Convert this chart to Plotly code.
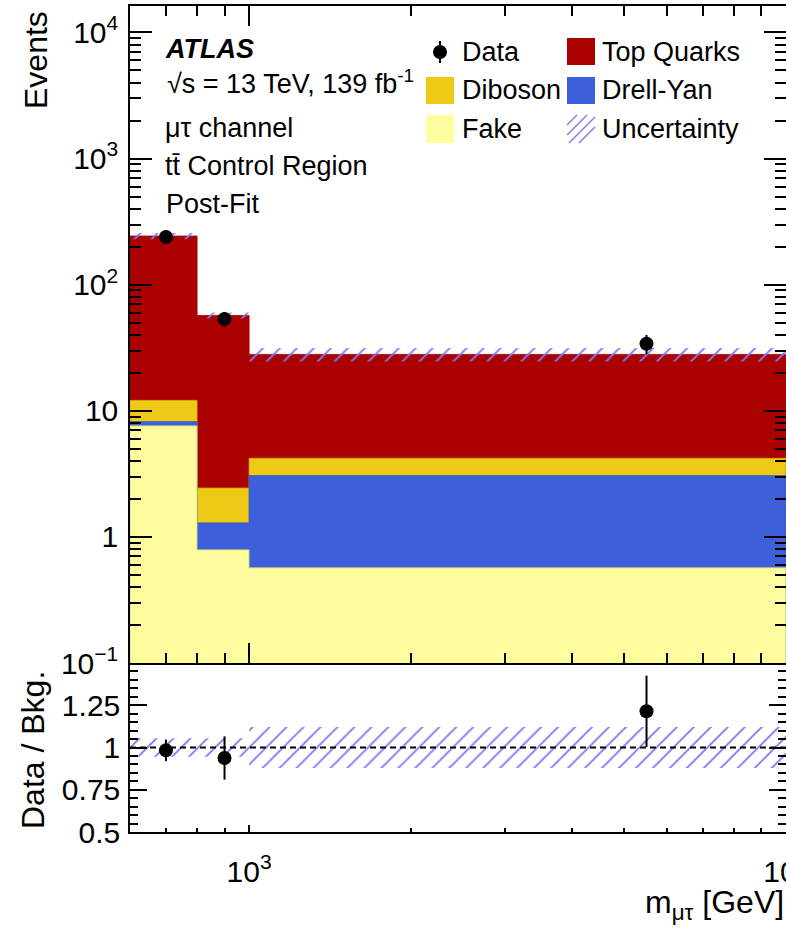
import numpy as np
import plotly.graph_objects as go

# ---------------------------------------------------------------- data
# m_mutau binning [GeV]
bin_edges = [600, 800, 1000, 10000]

# post-fit background yields per bin
fake = [7.6, 0.79, 0.57]
drell_yan = [0.6, 0.50, 2.49]
diboson = [3.9, 1.15, 1.14]
top_quarks = [231.0, 54.6, 23.8]

# relative total background uncertainty per bin
bkg_rel_unc = [0.055, 0.055, 0.122]

# observed events and their errors
data = [239, 53.5, 34]
data_err = [15.5, 7.3, 5.9]

# tick labels
y_tickvals = [0.1, 1, 10, 100, 1000, 10000]
y_ticktext = ["10<sup>\u22121</sup>", "1", "10", "10<sup>2</sup>", "10<sup>3</sup>", "10<sup>4</sup>"]
x_tickvals = [1000, 10000]
x_ticktext = ["10<sup>3</sup>", "10<sup>4</sup>"]
r_tickvals = [0.5, 0.75, 1, 1.25]
r_ticktext = ["0.5", "0.75", "1", "1.25"]

# ---------------------------------------------------------------- style
FONT = "Liberation Sans, Arial, Helvetica, sans-serif"
C_TOP = "#AA0000"
C_DIB = "#EEC916"
C_DY = "#3D5FDB"
C_FAKE = "#FFFD9E"
C_UNC = "#7E7EF0"

W, H = 786, 933
ML, MR, MT, MB = 130, 0, 6, 101
PW, PH = W - ML - MR, H - MT - MB
SPLIT_PX = 663  # boundary between main pad and ratio pad


def px_x(px):
    return (px - ML) / PW


def px_y(py):
    return (H - MB - py) / PH


split = px_y(SPLIT_PX)

edges = np.array(bin_edges, dtype=float)
centers = 0.5 * (edges[:-1] + edges[1:])

stack_fake = np.array(fake)
stack_dy = stack_fake + np.array(drell_yan)
stack_dib = stack_dy + np.array(diboson)
total = stack_dib + np.array(top_quarks)
rel = np.array(bkg_rel_unc)
ratio = np.array(data) / total
ratio_err = np.array(data_err) / total


def step_polygon(vals, base):
    xs, ys = [edges[0]], [base]
    for i, v in enumerate(vals):
        xs += [edges[i], edges[i + 1]]
        ys += [v, v]
    xs.append(edges[-1])
    ys.append(base)
    return xs, ys


def band_polygon(lo, hi):
    xs, ys = [], []
    for i in range(len(hi)):
        xs += [edges[i], edges[i + 1]]
        ys += [hi[i], hi[i]]
    for i in reversed(range(len(lo))):
        xs += [edges[i + 1], edges[i]]
        ys += [lo[i], lo[i]]
    xs.append(xs[0])
    ys.append(ys[0])
    return xs, ys


HATCH = dict(shape="/", fgcolor=C_UNC, bgcolor="rgba(0,0,0,0)", size=12, solidity=0.16)

fig = go.Figure()

# stacked backgrounds, drawn from the cumulative top down
for vals, col, line in [
    (total, C_TOP, "#9A0000"),
    (stack_dib, C_DIB, "#D9A800"),
    (stack_dy, C_DY, "#3050C8"),
    (stack_fake, C_FAKE, "#C8C870"),
]:
    xs, ys = step_polygon(vals, 0.01)
    fig.add_trace(go.Scatter(
        x=xs, y=ys, xaxis="x2", yaxis="y2", mode="lines",
        fill="toself", fillcolor=col, line=dict(color=line, width=0.8),
        hoverinfo="skip", showlegend=False))

# uncertainty hatch on the total
xs, ys = band_polygon(total * (1 - rel), total * (1 + rel))
fig.add_trace(go.Scatter(
    x=xs, y=ys, xaxis="x2", yaxis="y2", mode="lines", fill="toself",
    fillcolor="rgba(0,0,0,0)", line=dict(width=0), fillpattern=HATCH,
    hoverinfo="skip", showlegend=False))

# data
fig.add_trace(go.Scatter(
    x=centers, y=data, xaxis="x2", yaxis="y2", mode="markers",
    marker=dict(color="black", size=14),
    error_y=dict(type="data", array=data_err, color="black", thickness=2, width=0),
    showlegend=False, cliponaxis=False))

# ratio pad: uncertainty band, unity line, data/bkg
xs, ys = band_polygon(1 - rel, 1 + rel)
fig.add_trace(go.Scatter(
    x=xs, y=ys, xaxis="x", yaxis="y", mode="lines", fill="toself",
    fillcolor="rgba(0,0,0,0)", line=dict(width=0), fillpattern=HATCH,
    hoverinfo="skip", showlegend=False))
fig.add_trace(go.Scatter(
    x=[edges[0], edges[-1]], y=[1, 1], xaxis="x", yaxis="y", mode="lines",
    line=dict(color="black", width=2, dash="6px,4px"),
    hoverinfo="skip", showlegend=False))
fig.add_trace(go.Scatter(
    x=centers, y=ratio, xaxis="x", yaxis="y", mode="markers",
    marker=dict(color="black", size=14),
    error_y=dict(type="data", array=ratio_err, color="black", thickness=2, width=0),
    showlegend=False))

# ---------------------------------------------------------------- axes
AX = dict(showline=True, linecolor="black", linewidth=1.5, ticks="inside",
          tickcolor="black", tickwidth=1.5, showgrid=False, zeroline=False,
          tickfont=dict(family=FONT, size=30, color="black"))

x_minor = [v * 10 ** e for e in (2, 3) for v in range(2, 10) if 600 < v * 10 ** e < 10000]
y_minor = [v * 10.0 ** e for e in range(-1, 5) for v in range(2, 10)]
r_minor = [round(v, 2) for v in np.arange(0.55, 1.5, 0.05) if round(v, 2) not in r_tickvals]
xrange_log = [np.log10(edges[0]), np.log10(edges[-1]) + 2e-4]

fig.update_layout(
    width=W, height=H, template="none",
    paper_bgcolor="white", plot_bgcolor="rgba(0,0,0,0)",
    margin=dict(l=ML, r=MR, t=MT, b=MB, pad=0),
    showlegend=False,
    xaxis=dict(AX, type="log", range=xrange_log, domain=[0, 1], anchor="y",
               tickmode="array", tickvals=x_tickvals, ticktext=x_ticktext,
               ticklen=7, mirror=True, ticklabelstandoff=12,
               ticklabeloverflow="allow",
               minor=dict(tickmode="array", tickvals=x_minor, ticks="inside",
                          ticklen=4, tickcolor="black", tickwidth=1.5)),
    yaxis=dict(AX, range=[0.5, 1.5], domain=[0, split], anchor="x",
               tickmode="array", tickvals=r_tickvals, ticktext=r_ticktext,
               ticklen=17, mirror="allticks", ticklabelstandoff=2,
               minor=dict(tickmode="array", tickvals=r_minor, ticks="inside",
                          ticklen=8, tickcolor="black", tickwidth=1.5)),
    xaxis2=dict(AX, type="log", range=xrange_log, domain=[0, 1], anchor="y2",
                matches="x", tickmode="array", tickvals=x_tickvals,
                showticklabels=False, ticklen=20, mirror="allticks",
                minor=dict(tickmode="array", tickvals=x_minor, ticks="inside",
                           ticklen=10, tickcolor="black", tickwidth=1.5)),
    yaxis2=dict(AX, type="log", range=[-1, 4.21], domain=[split, 1], anchor="x2",
                tickmode="array", tickvals=y_tickvals, ticktext=y_ticktext,
                ticklen=22, mirror="allticks", ticklabelstandoff=4,
                minor=dict(tickmode="array", tickvals=y_minor, ticks="inside",
                           ticklen=11, tickcolor="black", tickwidth=1.5)),
)

# ---------------------------------------------------------------- text
annotations = []


def text(s, px, py, size=27, xanchor="left", angle=0):
    annotations.append(dict(
        text=s, x=px_x(px), y=px_y(py), xref="paper", yref="paper",
        xanchor=xanchor, yanchor="middle", showarrow=False, textangle=angle,
        font=dict(family=FONT, size=size, color="black")))


text("<b><i>ATLAS</i></b>", 163, 49)
text("\u221as = 13 TeV, 139 fb<sup>-1</sup>", 165, 82)
text("\u03bc\u03c4 channel", 163, 128)
text("tt\u0304 Control Region", 163, 166)
text("Post-Fit", 164, 204)

# axis titles
text("Events", 36, 60, size=32, xanchor="center", angle=-90)
text("Data / Bkg.", 33, 750, size=32, xanchor="center", angle=-90)
text("m<sub>\u03bc\u03c4</sub> [GeV]", 786, 905, size=32, xanchor="right")

# legend labels
legend_rows = [52, 90, 129]
text("Data", 460, legend_rows[0])
text("Diboson", 460, legend_rows[1])
text("Fake", 460, legend_rows[2])
text("Top Quarks", 600, legend_rows[0])
text("Drell-Yan", 600, legend_rows[1])
text("Uncertainty", 600, legend_rows[2])

fig.update_layout(annotations=annotations)

# legend symbols
shapes = []


def box(x0, y0, x1, y1, color):
    shapes.append(dict(type="rect", xref="paper", yref="paper",
                       x0=px_x(x0), x1=px_x(x1), y0=px_y(y1), y1=px_y(y0),
                       fillcolor=color, line=dict(width=0)))


def seg(x0, y0, x1, y1, color, width):
    shapes.append(dict(type="line", xref="paper", yref="paper",
                       x0=px_x(x0), x1=px_x(x1), y0=px_y(y0), y1=px_y(y1),
                       line=dict(color=color, width=width)))


# data marker
seg(440, 41, 440, 63, "black", 2)
shapes.append(dict(type="circle", xref="paper", yref="paper",
                   x0=px_x(433), x1=px_x(447), y0=px_y(59), y1=px_y(45),
                   fillcolor="black", line=dict(width=0)))
box(426, 77, 454, 104, C_DIB)
box(426, 115, 454, 143, C_FAKE)
box(567, 38, 595, 65, C_TOP)
box(567, 77, 595, 104, C_DY)
# hatch sample
bx0, by0, bx1, by1 = 567, 115, 595, 143
for off in (-18, -8, 2, 12):
    xa, ya = bx0 + off, by1
    xb, yb = bx0 + off + 28, by0
    if xa < bx0:
        ya -= bx0 - xa
        xa = bx0
    if xb > bx1:
        yb += xb - bx1
        xb = bx1
    seg(xa, ya, xb, yb, C_UNC, 1.5)

fig.update_layout(shapes=shapes)

fig.write_html("out.html")
